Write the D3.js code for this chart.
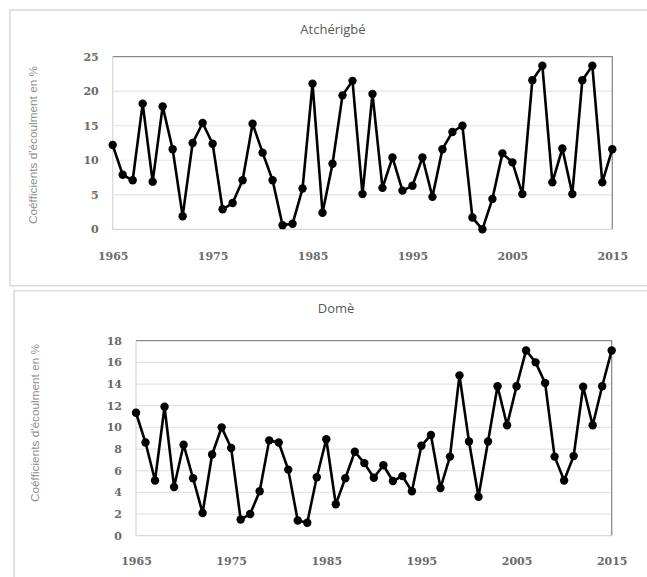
<!DOCTYPE html>
<html>
<head>
<meta charset="utf-8">
<script src="https://cdn.jsdelivr.net/npm/d3@7"></script>
<style>
  body { margin: 0; background: #fff; }
  .tick text { font-family: "DejaVu Serif", serif; font-size: 11px; font-weight: bold; fill: #6a6a6a; }
</style>
</head>
<body>
<div id="chart"></div>
<script>
// annees 1965-2015
var years = d3.range(1965, 2016);

var atcherigbe = [12.2, 7.9, 7.1, 18.2, 6.9, 17.8, 11.6, 1.9, 12.5, 15.4,
    12.4, 2.9, 3.8, 7.1, 15.3, 11.1, 7.1, 0.6, 0.8, 5.9,
    21.1, 2.4, 9.5, 19.4, 21.5, 5.1, 19.6, 6.0, 10.4, 5.6,
    6.3, 10.4, 4.7, 11.6, 14.1, 15.0, 1.7, 0.0, 4.4, 11.0,
    9.7, 5.1, 21.6, 23.7, 6.8, 11.7, 5.1, 21.6, 23.7, 6.8,
    11.6];

var dome = [11.35, 8.6, 5.1, 11.9, 4.5, 8.4, 5.3, 2.1, 7.5, 10.0,
    8.1, 1.5, 2.0, 4.1, 8.8, 8.6, 6.1, 1.4, 1.2, 5.4,
    8.9, 2.9, 5.3, 7.75, 6.7, 5.35, 6.5, 5.05, 5.5, 4.1,
    8.3, 9.3, 4.4, 7.3, 14.8, 8.7, 3.6, 8.7, 13.8, 10.2,
    13.8, 17.1, 16.0, 14.1, 7.3, 5.1, 7.35, 13.75, 10.2, 13.8,
    17.1];

var xTicks = [1965, 1975, 1985, 1995, 2005, 2015];
var yTicksA = [0, 5, 10, 15, 20, 25];
var yTicksD = [0, 2, 4, 6, 8, 10, 12, 14, 16, 18];
var yLabel = "Coéfficients d'écoulment en %";

var width = 647, height = 577;

var svg = d3.select("#chart").append("svg")
    .attr("width", width)
    .attr("height", height)
    .style("background", "#fff");

function drawchart(cfg) {
    var g = svg.append("g");

    // cadre du graphique
    g.append("rect")
        .attr("x", cfg.box[0]).attr("y", cfg.box[1])
        .attr("width", 700).attr("height", cfg.box[2])
        .attr("fill", "#fff")
        .attr("stroke", "#d9d9d9")
        .attr("stroke-width", 1.5);

    var x = d3.scaleLinear().domain([1965, 2015]).range([cfg.left, cfg.right]);
    var y = d3.scaleLinear().domain([0, cfg.ymax]).range([cfg.bottom, cfg.top]);

    // grille
    g.selectAll(".grid")
        .data(cfg.yticks.slice(1, -1))
        .enter().append("line")
        .attr("x1", cfg.left).attr("x2", cfg.right)
        .attr("y1", function(d) { return y(d); })
        .attr("y2", function(d) { return y(d); })
        .style("stroke", "#e3e3e3").style("stroke-width", 1.2);

    // bords du trace
    g.append("path")
        .attr("d", "M" + cfg.left + "," + cfg.top + "H" + cfg.right + "V" + cfg.bottom)
        .style("fill", "none").style("stroke", "#8c8c8c").style("stroke-width", 1.3);
    g.append("path")
        .attr("d", "M" + cfg.left + "," + cfg.top + "V" + cfg.bottom + "H" + cfg.right)
        .style("fill", "none").style("stroke", "#d9d9d9").style("stroke-width", 1.3);

    var xAxis = g.append("g")
        .attr("transform", "translate(0," + cfg.bottom + ")")
        .call(d3.axisBottom(x).tickValues(xTicks).tickFormat(d3.format("d")).tickSize(0).tickPadding(cfg.xpad));
    xAxis.select(".domain").remove();

    var yAxis = g.append("g")
        .attr("transform", "translate(" + cfg.left + ",0)")
        .call(d3.axisLeft(y).tickValues(cfg.yticks).tickSize(0).tickPadding(14));
    yAxis.select(".domain").remove();

    // titre
    g.append("text")
        .attr("x", cfg.titlex).attr("y", cfg.titley)
        .attr("text-anchor", "middle")
        .style("font-family", "'Open Sans', sans-serif")
        .style("font-size", "13px")
        .style("fill", "#595959")
        .text(cfg.title);

    // titre axe y
    g.append("text")
        .attr("transform", "translate(" + cfg.ylabx + "," + cfg.ylaby + ") rotate(-90)")
        .attr("text-anchor", "middle")
        .style("font-family", "'Liberation Sans', Arial, sans-serif")
        .style("font-size", "11.8px")
        .style("fill", "#8c8c8c")
        .text(yLabel);

    var line = d3.line()
        .x(function(d, i) { return x(years[i]); })
        .y(function(d) { return y(d); });

    g.append("path")
        .datum(cfg.values)
        .attr("d", line)
        .style("fill", "none")
        .style("stroke", "#000")
        .style("stroke-width", 2.6)
        .style("stroke-linejoin", "round");

    g.selectAll(".dot")
        .data(cfg.values)
        .enter().append("circle")
        .attr("cx", function(d, i) { return x(years[i]); })
        .attr("cy", function(d) { return y(d); })
        .attr("r", 4.2)
        .style("fill", "#000");
}

drawchart({
    values: atcherigbe, title: "Atchérigbé", ymax: 25, yticks: yTicksA,
    box: [10, 10, 275.7],
    left: 112.7, right: 612.3, top: 56.7, bottom: 229.3,
    xpad: 23, titlex: 333, titley: 34, ylabx: 37, ylaby: 145
});

drawchart({
    values: dome, title: "Domè", ymax: 18, yticks: yTicksD,
    box: [14, 290.7, 300],
    left: 136, right: 611.7, top: 340.7, bottom: 535.7,
    xpad: 22, titlex: 336, titley: 313, ylabx: 39, ylaby: 423
});
</script>
</body>
</html>
